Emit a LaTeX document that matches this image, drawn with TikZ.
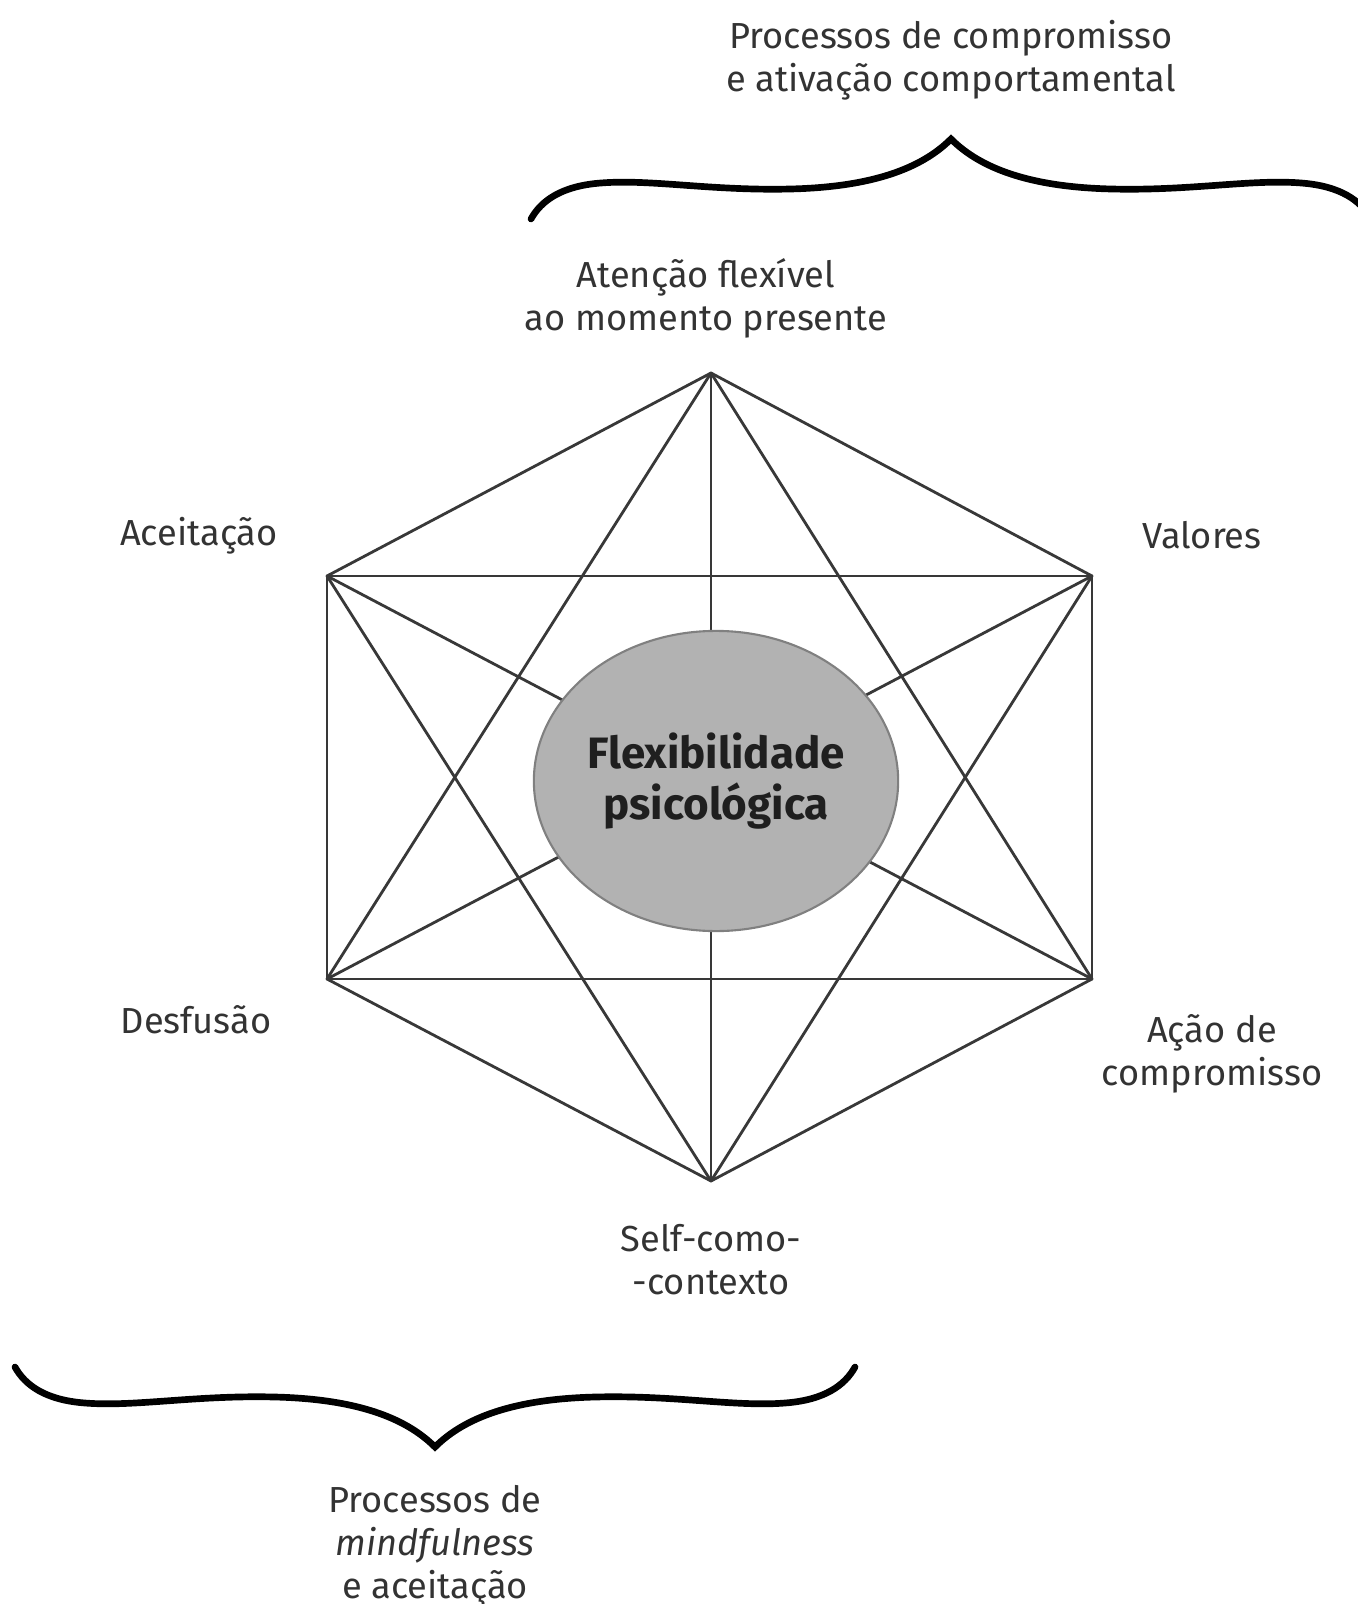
\documentclass[tikz,border=0pt]{standalone}
\usepackage{fontspec}
\setmainfont{Fira Sans}
\usepackage{xcolor}
\usetikzlibrary{shapes.geometric}
\tikzset{
  hxline/.style={line width=0.8pt, draw=black!78, line cap=round},
  hxcore/.style={ellipse, fill=black!30, draw=black!50, line width=0.6pt,
    minimum width=3.64cm, minimum height=3.0cm, inner sep=0pt, align=center,
    font=\fontsize{12.5}{14.5}\selectfont\bfseries, text=black!88},
  hxlabel/.style={align=center, inner sep=0pt, text=black!80,
    font=\fontsize{10.3}{12.2}\selectfont},
  hxbrace/.style={line width=1.9pt, draw=black, line cap=round},
  % #1 = 1: tip up, #1 = -1: tip down
  hxbracepic/.pic={
    \draw[hxbrace] (-420,#1*80) .. controls (-410,#1*62) and (-390,#1*47) .. (-350,#1*44)
      .. controls (-300,#1*40) and (-240,#1*52) .. (-160,#1*50)
      .. controls (-80,#1*48) and (-30,#1*30) .. (0,0)
      .. controls (30,#1*30) and (80,#1*48) .. (160,#1*50)
      .. controls (240,#1*52) and (300,#1*40) .. (350,#1*44)
      .. controls (390,#1*47) and (410,#1*62) .. (420,#1*80);
  },
}

\begin{document}
\begin{tikzpicture}[x=0.01cm,y=-0.01cm]
\useasboundingbox (0,0) rectangle (1357,1604);
% the six processes
\coordinate (vtop) at (711,373);
\coordinate (vul) at (327,576);
\coordinate (vur) at (1092,576);
\coordinate (vll) at (327,979);
\coordinate (vlr) at (1092,979);
\coordinate (vbot) at (711,1181);
% every pair is joined
\draw[hxline] (vtop) -- (vul);
\draw[hxline] (vtop) -- (vur);
\draw[hxline] (vtop) -- (vll);
\draw[hxline] (vtop) -- (vlr);
\draw[hxline] (vtop) -- (vbot);
\draw[hxline] (vul) -- (vur);
\draw[hxline] (vul) -- (vll);
\draw[hxline] (vul) -- (vlr);
\draw[hxline] (vul) -- (vbot);
\draw[hxline] (vur) -- (vll);
\draw[hxline] (vur) -- (vlr);
\draw[hxline] (vur) -- (vbot);
\draw[hxline] (vll) -- (vlr);
\draw[hxline] (vll) -- (vbot);
\draw[hxline] (vlr) -- (vbot);
\node[hxcore] (core) at (716,781) {Flexibilidade\\psicológica};
% labels
\node[hxlabel] (atencao) at (706,298) {Atenção flexível\\ao momento presente};
\node[hxlabel] (aceitacao) at (199,536) {Aceitação};
\node[hxlabel] (valores) at (1202,535) {Valores};
\node[hxlabel] (desfusao) at (196,1020) {Desfusão};
\node[hxlabel] (acao) at (1212,1054) {Ação de\\compromisso};
\node[hxlabel] (self) at (711,1260) {Self-como-\\-contexto};
% braces
\pic at (951,139) {hxbracepic=1};
\pic at (435,1447) {hxbracepic=-1};
\node[hxlabel] (compromisso) at (951,60) {Processos de compromisso\\e ativação comportamental};
\node[hxlabel] (mindful) at (435,1546) {Processos de\\\textit{mindfulness}\\e aceitação};
\end{tikzpicture}
\end{document}
